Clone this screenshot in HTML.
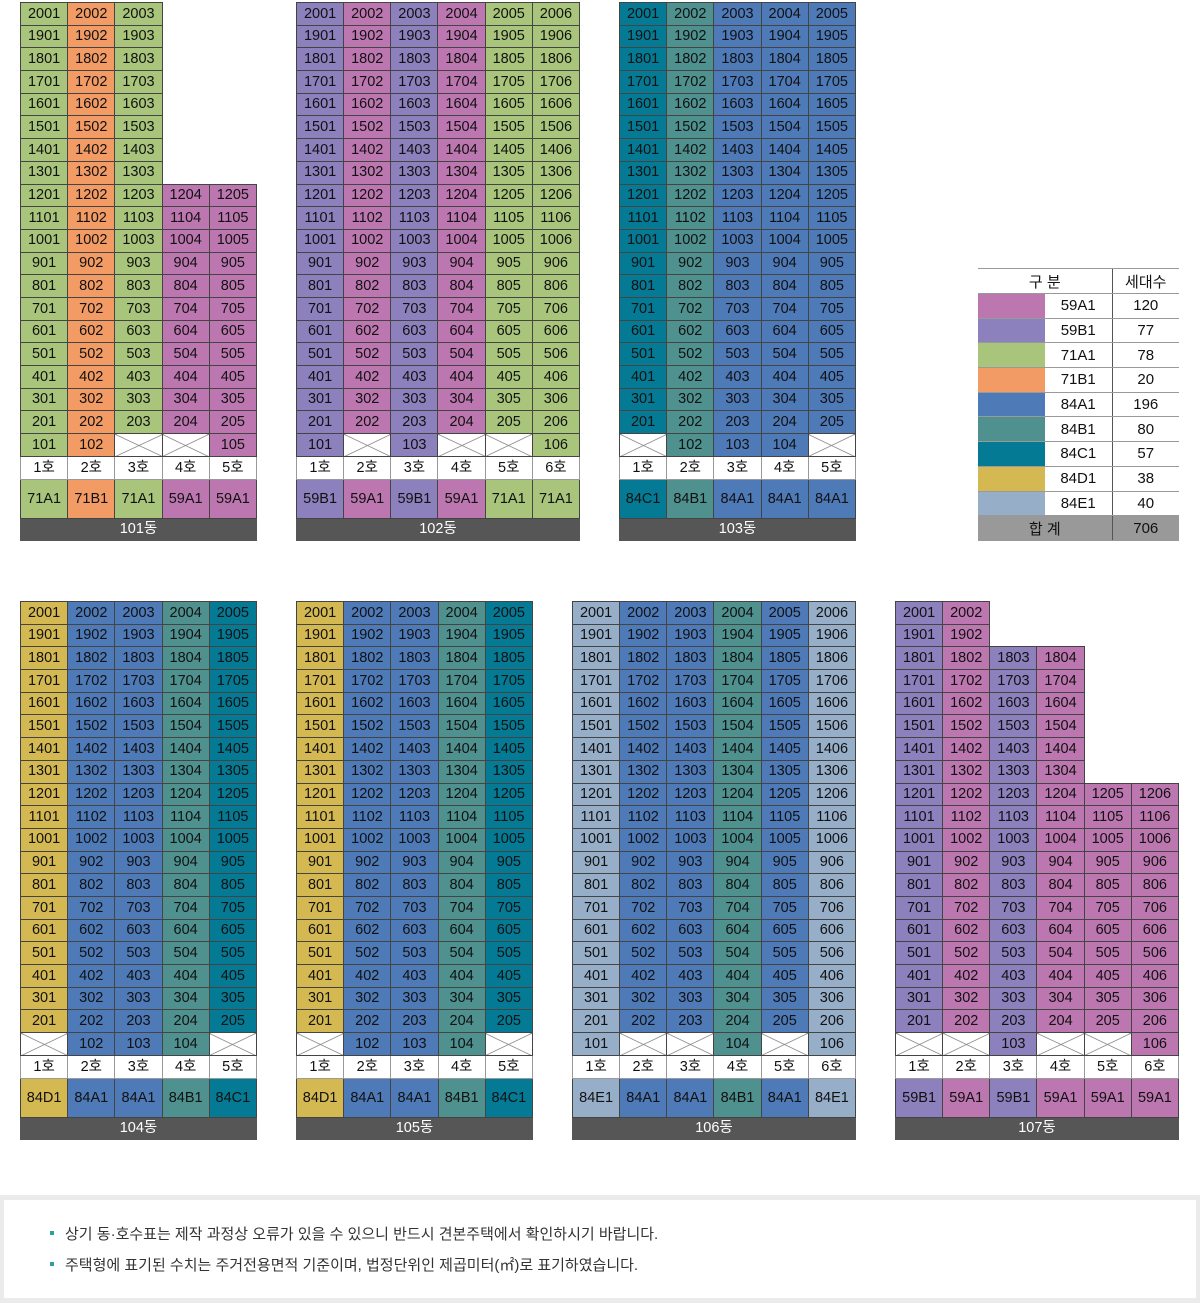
<!DOCTYPE html>
<html><head><meta charset="utf-8"><style>
*{margin:0;padding:0;box-sizing:border-box}
body{width:1200px;height:1303px;background:#fff;position:relative;font-family:"Liberation Sans","Noto Sans CJK KR",sans-serif;color:#111;overflow:hidden}
table.bd{position:absolute;border-collapse:collapse;table-layout:fixed;font-size:14.5px;text-align:center}
table.bd td{border:1px solid #444;padding:0;line-height:1;white-space:nowrap}
table.bd tr{height:22.7px}
table.bd tr.h{height:23px}
table.bd tr.h td{background:#fff;border-color:#999}
table.bd tr.t{height:39px}
table.bd tr.n{height:22px}
table.bd tr.n td{background:#565656;color:#fff;border-color:#565656}
td.e{border:none!important;background:#fff}
.p{background:#bd77b0}.v{background:#8c81bd}.g{background:#a8c57b}.o{background:#f29b64}.b{background:#4e7ab8}.t{background:#4e918f}.c{background:#047a94}.y{background:#d4b852}.l{background:#97aec8}
td.x{background:linear-gradient(to top right,#fff calc(50% - .7px),#777 50%,#fff calc(50% + .7px)),linear-gradient(to bottom right,#fff calc(50% - .7px),#777 50%,#fff calc(50% + .7px));background-blend-mode:darken}
table.lg{position:absolute;left:978px;top:268px;width:201px;border-collapse:collapse;table-layout:fixed;font-size:15px;text-align:center}
table.lg td{border-top:1px solid #999;border-bottom:1px solid #999;height:24.7px;padding:0}
table.lg td.m{border-left:1px solid #555}
table.lg tr.hd td{height:25px}
table.lg tr.tot td{background:#999;height:25px}
.notes{position:absolute;left:0;top:1195px;width:1200px;height:108px;background:#ebebeb}
.notes .in{position:absolute;left:4px;top:5px;width:1192px;height:98px;background:#fff}
.notes p{position:absolute;left:65px;font-size:15px;color:#333;white-space:nowrap}
.notes p:before{content:"";position:absolute;left:-15px;top:8px;width:4px;height:4px;background:#2aa0a0}
</style></head><body>

<table class="bd" style="left:20px;top:2px;width:237px">
<tr><td class=g>2001<td class=o>2002<td class=g>2003<td class=e><td class=e>
<tr><td class=g>1901<td class=o>1902<td class=g>1903<td class=e><td class=e>
<tr><td class=g>1801<td class=o>1802<td class=g>1803<td class=e><td class=e>
<tr><td class=g>1701<td class=o>1702<td class=g>1703<td class=e><td class=e>
<tr><td class=g>1601<td class=o>1602<td class=g>1603<td class=e><td class=e>
<tr><td class=g>1501<td class=o>1502<td class=g>1503<td class=e><td class=e>
<tr><td class=g>1401<td class=o>1402<td class=g>1403<td class=e><td class=e>
<tr><td class=g>1301<td class=o>1302<td class=g>1303<td class=e><td class=e>
<tr><td class=g>1201<td class=o>1202<td class=g>1203<td class=p>1204<td class=p>1205
<tr><td class=g>1101<td class=o>1102<td class=g>1103<td class=p>1104<td class=p>1105
<tr><td class=g>1001<td class=o>1002<td class=g>1003<td class=p>1004<td class=p>1005
<tr><td class=g>901<td class=o>902<td class=g>903<td class=p>904<td class=p>905
<tr><td class=g>801<td class=o>802<td class=g>803<td class=p>804<td class=p>805
<tr><td class=g>701<td class=o>702<td class=g>703<td class=p>704<td class=p>705
<tr><td class=g>601<td class=o>602<td class=g>603<td class=p>604<td class=p>605
<tr><td class=g>501<td class=o>502<td class=g>503<td class=p>504<td class=p>505
<tr><td class=g>401<td class=o>402<td class=g>403<td class=p>404<td class=p>405
<tr><td class=g>301<td class=o>302<td class=g>303<td class=p>304<td class=p>305
<tr><td class=g>201<td class=o>202<td class=g>203<td class=p>204<td class=p>205
<tr><td class=g>101<td class=o>102<td class=x><td class=x><td class=p>105
<tr class=h><td>1호<td>2호<td>3호<td>4호<td>5호
<tr class=t><td class=g>71A1<td class=o>71B1<td class=g>71A1<td class=p>59A1<td class=p>59A1
<tr class=n><td colspan=5>101동
</table>

<table class="bd" style="left:296px;top:2px;width:284px">
<tr><td class=v>2001<td class=p>2002<td class=v>2003<td class=p>2004<td class=g>2005<td class=g>2006
<tr><td class=v>1901<td class=p>1902<td class=v>1903<td class=p>1904<td class=g>1905<td class=g>1906
<tr><td class=v>1801<td class=p>1802<td class=v>1803<td class=p>1804<td class=g>1805<td class=g>1806
<tr><td class=v>1701<td class=p>1702<td class=v>1703<td class=p>1704<td class=g>1705<td class=g>1706
<tr><td class=v>1601<td class=p>1602<td class=v>1603<td class=p>1604<td class=g>1605<td class=g>1606
<tr><td class=v>1501<td class=p>1502<td class=v>1503<td class=p>1504<td class=g>1505<td class=g>1506
<tr><td class=v>1401<td class=p>1402<td class=v>1403<td class=p>1404<td class=g>1405<td class=g>1406
<tr><td class=v>1301<td class=p>1302<td class=v>1303<td class=p>1304<td class=g>1305<td class=g>1306
<tr><td class=v>1201<td class=p>1202<td class=v>1203<td class=p>1204<td class=g>1205<td class=g>1206
<tr><td class=v>1101<td class=p>1102<td class=v>1103<td class=p>1104<td class=g>1105<td class=g>1106
<tr><td class=v>1001<td class=p>1002<td class=v>1003<td class=p>1004<td class=g>1005<td class=g>1006
<tr><td class=v>901<td class=p>902<td class=v>903<td class=p>904<td class=g>905<td class=g>906
<tr><td class=v>801<td class=p>802<td class=v>803<td class=p>804<td class=g>805<td class=g>806
<tr><td class=v>701<td class=p>702<td class=v>703<td class=p>704<td class=g>705<td class=g>706
<tr><td class=v>601<td class=p>602<td class=v>603<td class=p>604<td class=g>605<td class=g>606
<tr><td class=v>501<td class=p>502<td class=v>503<td class=p>504<td class=g>505<td class=g>506
<tr><td class=v>401<td class=p>402<td class=v>403<td class=p>404<td class=g>405<td class=g>406
<tr><td class=v>301<td class=p>302<td class=v>303<td class=p>304<td class=g>305<td class=g>306
<tr><td class=v>201<td class=p>202<td class=v>203<td class=p>204<td class=g>205<td class=g>206
<tr><td class=v>101<td class=x><td class=v>103<td class=x><td class=x><td class=g>106
<tr class=h><td>1호<td>2호<td>3호<td>4호<td>5호<td>6호
<tr class=t><td class=v>59B1<td class=p>59A1<td class=v>59B1<td class=p>59A1<td class=g>71A1<td class=g>71A1
<tr class=n><td colspan=6>102동
</table>

<table class="bd" style="left:619px;top:2px;width:237px">
<tr><td class=c>2001<td class=t>2002<td class=b>2003<td class=b>2004<td class=b>2005
<tr><td class=c>1901<td class=t>1902<td class=b>1903<td class=b>1904<td class=b>1905
<tr><td class=c>1801<td class=t>1802<td class=b>1803<td class=b>1804<td class=b>1805
<tr><td class=c>1701<td class=t>1702<td class=b>1703<td class=b>1704<td class=b>1705
<tr><td class=c>1601<td class=t>1602<td class=b>1603<td class=b>1604<td class=b>1605
<tr><td class=c>1501<td class=t>1502<td class=b>1503<td class=b>1504<td class=b>1505
<tr><td class=c>1401<td class=t>1402<td class=b>1403<td class=b>1404<td class=b>1405
<tr><td class=c>1301<td class=t>1302<td class=b>1303<td class=b>1304<td class=b>1305
<tr><td class=c>1201<td class=t>1202<td class=b>1203<td class=b>1204<td class=b>1205
<tr><td class=c>1101<td class=t>1102<td class=b>1103<td class=b>1104<td class=b>1105
<tr><td class=c>1001<td class=t>1002<td class=b>1003<td class=b>1004<td class=b>1005
<tr><td class=c>901<td class=t>902<td class=b>903<td class=b>904<td class=b>905
<tr><td class=c>801<td class=t>802<td class=b>803<td class=b>804<td class=b>805
<tr><td class=c>701<td class=t>702<td class=b>703<td class=b>704<td class=b>705
<tr><td class=c>601<td class=t>602<td class=b>603<td class=b>604<td class=b>605
<tr><td class=c>501<td class=t>502<td class=b>503<td class=b>504<td class=b>505
<tr><td class=c>401<td class=t>402<td class=b>403<td class=b>404<td class=b>405
<tr><td class=c>301<td class=t>302<td class=b>303<td class=b>304<td class=b>305
<tr><td class=c>201<td class=t>202<td class=b>203<td class=b>204<td class=b>205
<tr><td class=x><td class=t>102<td class=b>103<td class=b>104<td class=x>
<tr class=h><td>1호<td>2호<td>3호<td>4호<td>5호
<tr class=t><td class=c>84C1<td class=t>84B1<td class=b>84A1<td class=b>84A1<td class=b>84A1
<tr class=n><td colspan=5>103동
</table>

<table class="lg">
<col style="width:67px"><col style="width:67px"><col style="width:67px">
<tr class=hd><td colspan=2>구 분<td class=m>세대수
<tr><td class=p><td>59A1<td class=m>120
<tr><td class=v><td>59B1<td class=m>77
<tr><td class=g><td>71A1<td class=m>78
<tr><td class=o><td>71B1<td class=m>20
<tr><td class=b><td>84A1<td class=m>196
<tr><td class=t><td>84B1<td class=m>80
<tr><td class=c><td>84C1<td class=m>57
<tr><td class=y><td>84D1<td class=m>38
<tr><td class=l><td>84E1<td class=m>40
<tr class=tot><td colspan=2>합 계<td class=m>706
</table>

<table class="bd" style="left:20px;top:601px;width:237px">
<tr><td class=y>2001<td class=b>2002<td class=b>2003<td class=t>2004<td class=c>2005
<tr><td class=y>1901<td class=b>1902<td class=b>1903<td class=t>1904<td class=c>1905
<tr><td class=y>1801<td class=b>1802<td class=b>1803<td class=t>1804<td class=c>1805
<tr><td class=y>1701<td class=b>1702<td class=b>1703<td class=t>1704<td class=c>1705
<tr><td class=y>1601<td class=b>1602<td class=b>1603<td class=t>1604<td class=c>1605
<tr><td class=y>1501<td class=b>1502<td class=b>1503<td class=t>1504<td class=c>1505
<tr><td class=y>1401<td class=b>1402<td class=b>1403<td class=t>1404<td class=c>1405
<tr><td class=y>1301<td class=b>1302<td class=b>1303<td class=t>1304<td class=c>1305
<tr><td class=y>1201<td class=b>1202<td class=b>1203<td class=t>1204<td class=c>1205
<tr><td class=y>1101<td class=b>1102<td class=b>1103<td class=t>1104<td class=c>1105
<tr><td class=y>1001<td class=b>1002<td class=b>1003<td class=t>1004<td class=c>1005
<tr><td class=y>901<td class=b>902<td class=b>903<td class=t>904<td class=c>905
<tr><td class=y>801<td class=b>802<td class=b>803<td class=t>804<td class=c>805
<tr><td class=y>701<td class=b>702<td class=b>703<td class=t>704<td class=c>705
<tr><td class=y>601<td class=b>602<td class=b>603<td class=t>604<td class=c>605
<tr><td class=y>501<td class=b>502<td class=b>503<td class=t>504<td class=c>505
<tr><td class=y>401<td class=b>402<td class=b>403<td class=t>404<td class=c>405
<tr><td class=y>301<td class=b>302<td class=b>303<td class=t>304<td class=c>305
<tr><td class=y>201<td class=b>202<td class=b>203<td class=t>204<td class=c>205
<tr><td class=x><td class=b>102<td class=b>103<td class=t>104<td class=x>
<tr class=h><td>1호<td>2호<td>3호<td>4호<td>5호
<tr class=t><td class=y>84D1<td class=b>84A1<td class=b>84A1<td class=t>84B1<td class=c>84C1
<tr class=n><td colspan=5>104동
</table>

<table class="bd" style="left:296px;top:601px;width:237px">
<tr><td class=y>2001<td class=b>2002<td class=b>2003<td class=t>2004<td class=c>2005
<tr><td class=y>1901<td class=b>1902<td class=b>1903<td class=t>1904<td class=c>1905
<tr><td class=y>1801<td class=b>1802<td class=b>1803<td class=t>1804<td class=c>1805
<tr><td class=y>1701<td class=b>1702<td class=b>1703<td class=t>1704<td class=c>1705
<tr><td class=y>1601<td class=b>1602<td class=b>1603<td class=t>1604<td class=c>1605
<tr><td class=y>1501<td class=b>1502<td class=b>1503<td class=t>1504<td class=c>1505
<tr><td class=y>1401<td class=b>1402<td class=b>1403<td class=t>1404<td class=c>1405
<tr><td class=y>1301<td class=b>1302<td class=b>1303<td class=t>1304<td class=c>1305
<tr><td class=y>1201<td class=b>1202<td class=b>1203<td class=t>1204<td class=c>1205
<tr><td class=y>1101<td class=b>1102<td class=b>1103<td class=t>1104<td class=c>1105
<tr><td class=y>1001<td class=b>1002<td class=b>1003<td class=t>1004<td class=c>1005
<tr><td class=y>901<td class=b>902<td class=b>903<td class=t>904<td class=c>905
<tr><td class=y>801<td class=b>802<td class=b>803<td class=t>804<td class=c>805
<tr><td class=y>701<td class=b>702<td class=b>703<td class=t>704<td class=c>705
<tr><td class=y>601<td class=b>602<td class=b>603<td class=t>604<td class=c>605
<tr><td class=y>501<td class=b>502<td class=b>503<td class=t>504<td class=c>505
<tr><td class=y>401<td class=b>402<td class=b>403<td class=t>404<td class=c>405
<tr><td class=y>301<td class=b>302<td class=b>303<td class=t>304<td class=c>305
<tr><td class=y>201<td class=b>202<td class=b>203<td class=t>204<td class=c>205
<tr><td class=x><td class=b>102<td class=b>103<td class=t>104<td class=x>
<tr class=h><td>1호<td>2호<td>3호<td>4호<td>5호
<tr class=t><td class=y>84D1<td class=b>84A1<td class=b>84A1<td class=t>84B1<td class=c>84C1
<tr class=n><td colspan=5>105동
</table>

<table class="bd" style="left:572px;top:601px;width:284px">
<tr><td class=l>2001<td class=b>2002<td class=b>2003<td class=t>2004<td class=b>2005<td class=l>2006
<tr><td class=l>1901<td class=b>1902<td class=b>1903<td class=t>1904<td class=b>1905<td class=l>1906
<tr><td class=l>1801<td class=b>1802<td class=b>1803<td class=t>1804<td class=b>1805<td class=l>1806
<tr><td class=l>1701<td class=b>1702<td class=b>1703<td class=t>1704<td class=b>1705<td class=l>1706
<tr><td class=l>1601<td class=b>1602<td class=b>1603<td class=t>1604<td class=b>1605<td class=l>1606
<tr><td class=l>1501<td class=b>1502<td class=b>1503<td class=t>1504<td class=b>1505<td class=l>1506
<tr><td class=l>1401<td class=b>1402<td class=b>1403<td class=t>1404<td class=b>1405<td class=l>1406
<tr><td class=l>1301<td class=b>1302<td class=b>1303<td class=t>1304<td class=b>1305<td class=l>1306
<tr><td class=l>1201<td class=b>1202<td class=b>1203<td class=t>1204<td class=b>1205<td class=l>1206
<tr><td class=l>1101<td class=b>1102<td class=b>1103<td class=t>1104<td class=b>1105<td class=l>1106
<tr><td class=l>1001<td class=b>1002<td class=b>1003<td class=t>1004<td class=b>1005<td class=l>1006
<tr><td class=l>901<td class=b>902<td class=b>903<td class=t>904<td class=b>905<td class=l>906
<tr><td class=l>801<td class=b>802<td class=b>803<td class=t>804<td class=b>805<td class=l>806
<tr><td class=l>701<td class=b>702<td class=b>703<td class=t>704<td class=b>705<td class=l>706
<tr><td class=l>601<td class=b>602<td class=b>603<td class=t>604<td class=b>605<td class=l>606
<tr><td class=l>501<td class=b>502<td class=b>503<td class=t>504<td class=b>505<td class=l>506
<tr><td class=l>401<td class=b>402<td class=b>403<td class=t>404<td class=b>405<td class=l>406
<tr><td class=l>301<td class=b>302<td class=b>303<td class=t>304<td class=b>305<td class=l>306
<tr><td class=l>201<td class=b>202<td class=b>203<td class=t>204<td class=b>205<td class=l>206
<tr><td class=l>101<td class=x><td class=x><td class=t>104<td class=x><td class=l>106
<tr class=h><td>1호<td>2호<td>3호<td>4호<td>5호<td>6호
<tr class=t><td class=l>84E1<td class=b>84A1<td class=b>84A1<td class=t>84B1<td class=b>84A1<td class=l>84E1
<tr class=n><td colspan=6>106동
</table>

<table class="bd" style="left:895px;top:601px;width:284px">
<tr><td class=v>2001<td class=p>2002<td class=e><td class=e><td class=e><td class=e>
<tr><td class=v>1901<td class=p>1902<td class=e><td class=e><td class=e><td class=e>
<tr><td class=v>1801<td class=p>1802<td class=v>1803<td class=p>1804<td class=e><td class=e>
<tr><td class=v>1701<td class=p>1702<td class=v>1703<td class=p>1704<td class=e><td class=e>
<tr><td class=v>1601<td class=p>1602<td class=v>1603<td class=p>1604<td class=e><td class=e>
<tr><td class=v>1501<td class=p>1502<td class=v>1503<td class=p>1504<td class=e><td class=e>
<tr><td class=v>1401<td class=p>1402<td class=v>1403<td class=p>1404<td class=e><td class=e>
<tr><td class=v>1301<td class=p>1302<td class=v>1303<td class=p>1304<td class=e><td class=e>
<tr><td class=v>1201<td class=p>1202<td class=v>1203<td class=p>1204<td class=p>1205<td class=p>1206
<tr><td class=v>1101<td class=p>1102<td class=v>1103<td class=p>1104<td class=p>1105<td class=p>1106
<tr><td class=v>1001<td class=p>1002<td class=v>1003<td class=p>1004<td class=p>1005<td class=p>1006
<tr><td class=v>901<td class=p>902<td class=v>903<td class=p>904<td class=p>905<td class=p>906
<tr><td class=v>801<td class=p>802<td class=v>803<td class=p>804<td class=p>805<td class=p>806
<tr><td class=v>701<td class=p>702<td class=v>703<td class=p>704<td class=p>705<td class=p>706
<tr><td class=v>601<td class=p>602<td class=v>603<td class=p>604<td class=p>605<td class=p>606
<tr><td class=v>501<td class=p>502<td class=v>503<td class=p>504<td class=p>505<td class=p>506
<tr><td class=v>401<td class=p>402<td class=v>403<td class=p>404<td class=p>405<td class=p>406
<tr><td class=v>301<td class=p>302<td class=v>303<td class=p>304<td class=p>305<td class=p>306
<tr><td class=v>201<td class=p>202<td class=v>203<td class=p>204<td class=p>205<td class=p>206
<tr><td class=x><td class=x><td class=v>103<td class=x><td class=x><td class=p>106
<tr class=h><td>1호<td>2호<td>3호<td>4호<td>5호<td>6호
<tr class=t><td class=v>59B1<td class=p>59A1<td class=v>59B1<td class=p>59A1<td class=p>59A1<td class=p>59A1
<tr class=n><td colspan=6>107동
</table>

<div class="notes"><div class="in"></div>
<p style="top:28px">상기 동·호수표는 제작 과정상 오류가 있을 수 있으니 반드시 견본주택에서 확인하시기 바랍니다.</p>
<p style="top:59px">주택형에 표기된 수치는 주거전용면적 기준이며, 법정단위인 제곱미터(㎡)로 표기하였습니다.</p>
</div>
</body></html>
